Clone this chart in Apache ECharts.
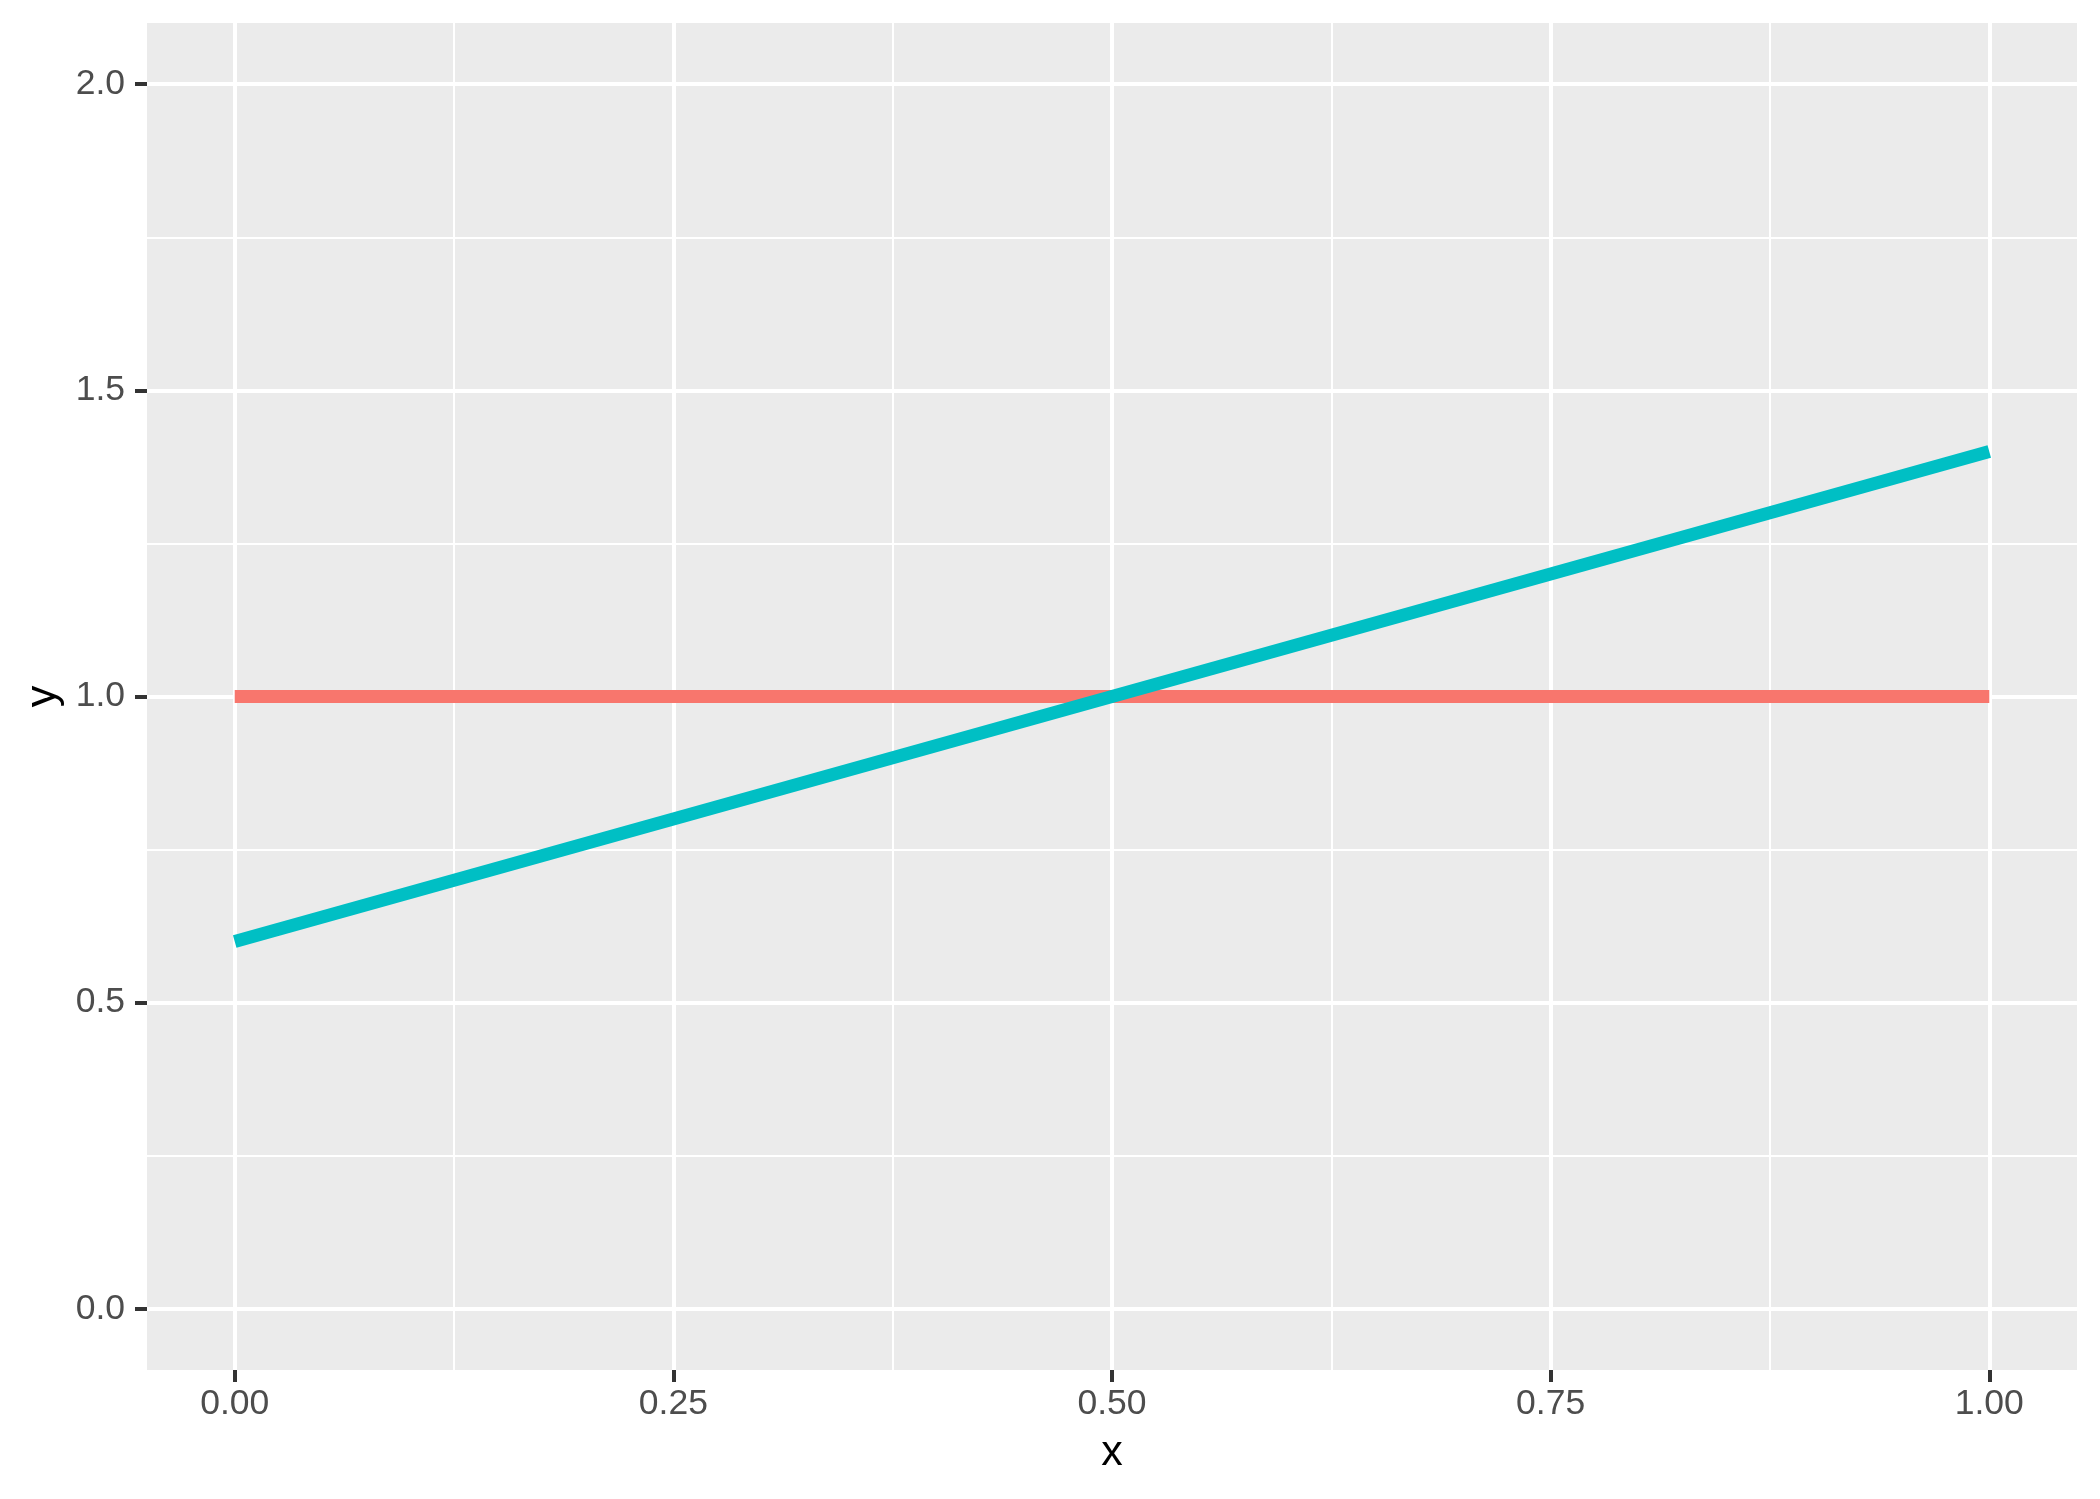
<!DOCTYPE html>
<html>
<head>
<meta charset="utf-8">
<script src="https://cdn.jsdelivr.net/npm/echarts@6/dist/echarts.min.js"></script>
<style>
    html, body { margin: 0; padding: 0; background: #fff; }
    #chart { width: 2100px; height: 1499px; }
</style>
</head>
<body>
<div id="chart"></div>
<script>
// data
const xValues = [0, 1];
const redY = [1, 1];
const tealY = [0.6, 1.4];

// ticks
const xTicks = [0, 0.25, 0.5, 0.75, 1];
const xMinor = [0.125, 0.375, 0.625, 0.875];
const yTicks = [0, 0.5, 1, 1.5, 2];
const yMinor = [0.25, 0.75, 1.25, 1.75];

const fontFamily = 'Liberation Sans, Arial, sans-serif';
const labelFont = {
    color: '#4D4D4D',
    fontSize: 35.5,
    fontFamily: fontFamily,
};

const gridLines = (vals, key, width) =>
    vals.map((v) => ({ [key]: v, lineStyle: { color: '#fff', width: width, type: 'solid' } }));

const option = {
    animation: false,
    backgroundColor: '#fff',
    grid: {
        left: 147,
        top: 23,
        width: 1930,
        height: 1347,
        show: true,
        backgroundColor: '#EBEBEB',
        borderWidth: 0,
    },
    xAxis: {
        type: 'value',
        min: -0.05,
        max: 1.05,
        name: 'x',
        nameLocation: 'middle',
        nameGap: 62,
        nameTextStyle: { color: '#000', fontSize: 43, fontFamily: fontFamily },
        axisLine: { show: true, onZero: false, lineStyle: { color: 'rgba(0,0,0,0)' } },
        splitLine: { show: false },
        axisTick: {
            show: true,
            length: 12,
            customValues: xTicks,
            lineStyle: { color: '#333', width: 4 },
        },
        axisLabel: {
            ...labelFont,
            margin: 16,
            customValues: xTicks,
            formatter: (v) => v.toFixed(2),
        },
    },
    yAxis: {
        type: 'value',
        min: -0.1,
        max: 2.1,
        name: 'y',
        nameLocation: 'middle',
        nameGap: 82,
        nameTextStyle: { color: '#000', fontSize: 43, fontFamily: fontFamily },
        axisLine: { show: true, onZero: false, lineStyle: { color: 'rgba(0,0,0,0)' } },
        splitLine: { show: false },
        axisTick: {
            show: true,
            length: 12,
            customValues: yTicks,
            lineStyle: { color: '#333', width: 4 },
        },
        axisLabel: {
            ...labelFont,
            margin: 22,
            customValues: yTicks,
            formatter: (v) => v.toFixed(1),
        },
    },
    series: [
        {
            // panel grid lines
            type: 'line',
            data: [],
            z: 1,
            markLine: {
                silent: true,
                z: 1,
                precision: 4,
                symbol: 'none',
                label: { show: false },
                animation: false,
                data: [
                    ...gridLines(xMinor, 'xAxis', 2),
                    ...gridLines(yMinor, 'yAxis', 2),
                    ...gridLines(xTicks, 'xAxis', 4),
                    ...gridLines(yTicks, 'yAxis', 4),
                ],
            },
        },
        {
            name: 'a',
            type: 'line',
            z: 10,
            showSymbol: false,
            data: xValues.map((x, i) => [x, redY[i]]),
            lineStyle: { color: '#F8766D', width: 13, cap: 'butt' },
        },
        {
            name: 'b',
            type: 'line',
            z: 11,
            showSymbol: false,
            data: xValues.map((x, i) => [x, tealY[i]]),
            lineStyle: { color: '#00BFC4', width: 13, cap: 'butt' },
        },
    ],
};

let myChart = echarts.init(document.getElementById('chart'));
myChart.setOption(option);
</script>
</body>
</html>
